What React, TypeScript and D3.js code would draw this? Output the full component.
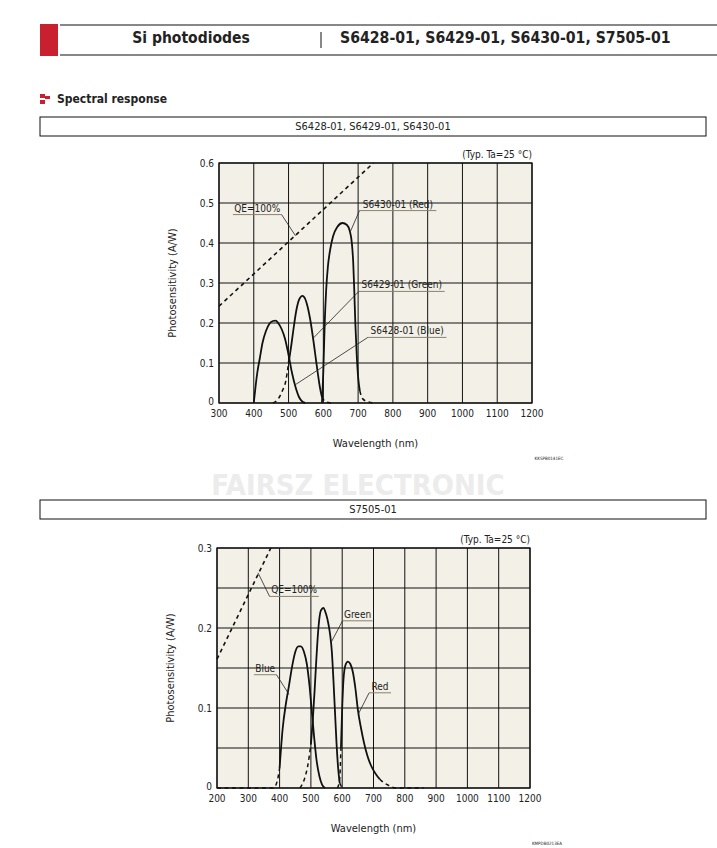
import * as d3 from 'd3';

const FONT = '"DejaVu Sans Condensed", "DejaVu Sans", Verdana, sans-serif';
const RED = '#c8202f';
const PLOT_BG = '#f3f1e7';

type Pt = [number, number];

// ---- S6428-01 / S6429-01 / S6430-01 ----
const topXTicks = [300, 400, 500, 600, 700, 800, 900, 1000, 1100, 1200];
const topYGrid = [0, 0.1, 0.2, 0.3, 0.4, 0.5, 0.6];
const topYLabels = ['0', '0.1', '0.2', '0.3', '0.4', '0.5', '0.6'];
const topQE: Pt[] = [[300, 0.242], [744, 0.6]];
const s6428Blue: Pt[] = [
  [400, 0], [405, 0.04], [410, 0.075], [418, 0.115], [425, 0.15], [435, 0.18], [445, 0.198],
  [455, 0.205], [463, 0.206], [470, 0.2], [480, 0.185], [490, 0.16], [500, 0.12], [510, 0.075],
  [520, 0.04], [530, 0.015], [540, 0.003], [548, 0],
];
const s6429Green: Pt[] = [
  [455, 0], [470, 0.01], [482, 0.03], [492, 0.055], [500, 0.1], [508, 0.145], [515, 0.19],
  [522, 0.23], [530, 0.258], [540, 0.268], [548, 0.26], [555, 0.24], [562, 0.21], [570, 0.165],
  [577, 0.12], [584, 0.075], [590, 0.04], [596, 0.015], [605, 0.004], [615, 0.001], [625, 0],
];
const s6430Red: Pt[] = [
  [596, 0], [600, 0.08], [604, 0.2], [608, 0.28], [613, 0.34], [620, 0.385], [628, 0.417],
  [640, 0.44], [655, 0.45], [668, 0.445], [676, 0.43], [682, 0.4], [686, 0.35], [689, 0.28],
  [692, 0.2], [696, 0.12], [700, 0.065], [705, 0.03], [712, 0.012], [725, 0.004], [750, 0],
];

// ---- S7505-01 ----
const botXTicks = [200, 300, 400, 500, 600, 700, 800, 900, 1000, 1100, 1200];
const botYGrid = [0, 0.05, 0.1, 0.15, 0.2, 0.25, 0.3];
const botYTicks = [0, 0.1, 0.2, 0.3];
const botYLabels = ['0', '0.1', '0.2', '0.3'];
const botQE: Pt[] = [[200, 0.161], [372, 0.3]];
const s7505Blue: Pt[] = [
  [200, 0], [380, 0], [392, 0.008], [400, 0.025], [410, 0.075], [420, 0.105], [430, 0.128],
  [440, 0.152], [450, 0.17], [460, 0.177], [468, 0.177], [478, 0.17], [487, 0.155], [495, 0.13],
  [502, 0.1], [510, 0.065], [518, 0.035], [527, 0.015], [536, 0.004], [545, 0],
];
const s7505Green: Pt[] = [
  [465, 0], [480, 0.012], [490, 0.028], [500, 0.055], [506, 0.085], [512, 0.123], [518, 0.165],
  [524, 0.2], [532, 0.222], [540, 0.225], [548, 0.218], [556, 0.205], [562, 0.19], [567, 0.17],
  [572, 0.135], [577, 0.095], [582, 0.055], [587, 0.025], [592, 0.006], [600, 0],
];
const s7505Red: Pt[] = [
  [585, 0], [592, 0.012], [596, 0.05], [600, 0.1], [604, 0.135], [610, 0.153], [618, 0.158],
  [626, 0.155], [634, 0.145], [642, 0.125], [650, 0.098], [660, 0.075], [670, 0.056], [680, 0.041],
  [690, 0.03], [700, 0.022], [710, 0.016], [720, 0.011], [735, 0.006], [750, 0.003], [770, 0], [860, 0],
];

interface Curve { data: Pt[]; solid: [number, number]; }
interface Note { text: string; from: number; to: number; y: number; side: 'left' | 'right'; tip: Pt; }
interface ChartProps {
  frame: { x0: number; x1: number; y0: number; y1: number };
  xDomain: [number, number];
  yDomain: [number, number];
  xTicks: number[];
  yGrid: number[];
  yTicks: number[];
  yLabels: string[];
  qe: Pt[];
  curves: Curve[];
  notes: Note[];
  code: string;
}

function Chart({ frame, xDomain, yDomain, xTicks, yGrid, yTicks, yLabels, qe, curves, notes, code }: ChartProps) {
  const x = d3.scaleLinear().domain(xDomain).range([frame.x0, frame.x1]);
  const y = d3.scaleLinear().domain(yDomain).range([frame.y1, frame.y0]);
  const line = d3.line<Pt>().x((d) => x(d[0])).y((d) => y(d[1])).curve(d3.curveMonotoneX);
  const straight = d3.line<Pt>().x((d) => x(d[0])).y((d) => y(d[1]));

  return (
    <g fontFamily={FONT}>
      <rect x={frame.x0} y={frame.y0} width={frame.x1 - frame.x0} height={frame.y1 - frame.y0} fill={PLOT_BG} />
      {xTicks.map((t) => (
        <line key={'gx' + t} x1={x(t)} x2={x(t)} y1={frame.y0} y2={frame.y1} stroke='#111' strokeWidth={1} />
      ))}
      {yGrid.map((t) => (
        <line key={'gy' + t} x1={frame.x0} x2={frame.x1} y1={y(t)} y2={y(t)} stroke='#111' strokeWidth={1} />
      ))}
      <rect x={frame.x0} y={frame.y0} width={frame.x1 - frame.x0} height={frame.y1 - frame.y0} fill='none' stroke='#111' strokeWidth={1.3} />

      {/* QE = 100 % */}
      <path d={straight(qe) as string} fill='none' stroke='#111' strokeWidth={1.6} strokeDasharray='4,3.5' />

      {curves.map((c, i) => {
        // solid inside the measured range, dashed tails outside; segments share their end points
        const i0 = c.data.findIndex((d) => d[0] >= c.solid[0]);
        let i1 = c.data.length - 1;
        while (i1 > 0 && c.data[i1][0] > c.solid[1]) i1--;
        const pre = c.data.slice(0, i0 + 1);
        const mid = c.data.slice(i0, i1 + 1);
        const post = c.data.slice(i1);
        return (
          <g key={'c' + i} fill='none' stroke='#111' strokeWidth={1.8}>
            {pre.length > 1 && <path d={line(pre) as string} strokeDasharray='4,3.5' strokeWidth={1.5} />}
            <path d={line(mid) as string} />
            {post.length > 1 && <path d={line(post) as string} strokeDasharray='4,3.5' strokeWidth={1.5} />}
          </g>
        );
      })}

      {notes.map((n) => {
        const ex = n.side === 'left' ? n.from : n.to;
        return (
          <g key={n.text}>
            <line x1={x(n.from)} x2={x(n.to)} y1={y(n.y)} y2={y(n.y)} stroke='#8a8070' strokeWidth={1} />
            <line x1={x(ex)} y1={y(n.y)} x2={x(n.tip[0])} y2={y(n.tip[1])} stroke='#222' strokeWidth={0.8} />
            <text x={(x(n.from) + x(n.to)) / 2} y={y(n.y) - 3} textAnchor='middle' fontSize={10} fill='#222'>
              {n.text}
            </text>
          </g>
        );
      })}

      <text x={frame.x1} y={frame.y0 - 5} textAnchor='end' fontSize={10} fill='#222'>
        (Typ. Ta=25 °C)
      </text>

      {xTicks.map((t) => (
        <text key={'tx' + t} x={x(t)} y={frame.y1 + 14} textAnchor='middle' fontSize={10} fill='#222'>
          {t}
        </text>
      ))}
      {yTicks.map((t, i) => (
        <text key={'ty' + t} x={frame.x0 - 5} y={y(t) - (t === 0 ? 2 : 0)} dy='0.35em' textAnchor='end' fontSize={10} fill='#222'>
          {yLabels[i]}
        </text>
      ))}
      <text x={(frame.x0 + frame.x1) / 2} y={frame.y1 + 44} textAnchor='middle' fontSize={11} fill='#222'>
        Wavelength (nm)
      </text>
      <text
        transform={`translate(${frame.x0 - 43}, ${(frame.y0 + frame.y1) / 2}) rotate(-90)`}
        textAnchor='middle'
        fontSize={11}
        fill='#222'
      >
        Photosensitivity (A/W)
      </text>
      <text x={frame.x1 + 17} y={frame.y1 + 57} textAnchor='middle' fontSize={4.5} fill='#222'>
        {code}
      </text>
    </g>
  );
}

export default function App() {
  const topNotes: Note[] = [
    { text: 'QE=100%', from: 340, to: 480, y: 0.471, side: 'right', tip: [520, 0.418] },
    { text: 'S6430-01 (Red)', from: 704, to: 925, y: 0.481, side: 'left', tip: [678, 0.429] },
    { text: 'S6429-01 (Green)', from: 702, to: 949, y: 0.279, side: 'left', tip: [572, 0.163] },
    { text: 'S6428-01 (Blue)', from: 728, to: 954, y: 0.164, side: 'left', tip: [520, 0.046] },
  ];
  const botNotes: Note[] = [
    { text: 'QE=100%', from: 368, to: 525, y: 0.2395, side: 'left', tip: [331, 0.269] },
    { text: 'Green', from: 601, to: 697, y: 0.209, side: 'left', tip: [566, 0.183] },
    { text: 'Blue', from: 318, to: 390, y: 0.1416, side: 'right', tip: [430, 0.117] },
    { text: 'Red', from: 686, to: 756, y: 0.119, side: 'left', tip: [651, 0.092] },
  ];

  return (
    <svg width={717} height={848} style={{ position: 'absolute', left: 0, top: 0, background: '#fff' }}>
      {/* page header */}
      <rect x={40} y={24} width={18} height={32} fill={RED} />
      <line x1={60} x2={717} y1={25} y2={25} stroke='#111' strokeWidth={1.2} />
      <line x1={60} x2={717} y1={55} y2={55} stroke='#111' strokeWidth={1.2} />
      <line x1={321} x2={321} y1={32} y2={48} stroke='#111' strokeWidth={1} />
      <text x={191} y={43} textAnchor='middle' fontFamily={FONT} fontWeight='bold' fontSize={15.5} fill='#222'>
        Si photodiodes
      </text>
      <text x={340} y={43} fontFamily={FONT} fontWeight='bold' fontSize={15.7} fill='#222'>
        S6428-01, S6429-01, S6430-01, S7505-01
      </text>

      {/* section title */}
      <rect x={40} y={94} width={5} height={4} fill={RED} />
      <rect x={45} y={96} width={5} height={3} fill={RED} />
      <rect x={40} y={100} width={5} height={4} fill={RED} />
      <text x={57} y={103} fontFamily={FONT} fontWeight='bold' fontSize={12} fill='#222'>
        Spectral response
      </text>

      <rect x={40} y={117} width={666} height={19} fill='none' stroke='#111' strokeWidth={1} />
      <text x={373} y={130} textAnchor='middle' fontFamily={FONT} fontSize={11} fill='#222'>
        S6428-01, S6429-01, S6430-01
      </text>

      <Chart
        frame={{ x0: 219, x1: 532, y0: 163, y1: 403 }}
        xDomain={[300, 1200]}
        yDomain={[0, 0.6]}
        xTicks={topXTicks}
        yGrid={topYGrid}
        yTicks={topYGrid}
        yLabels={topYLabels}
        qe={topQE}
        curves={[
          { data: s6428Blue, solid: [400, 548] },
          { data: s6429Green, solid: [495, 596] },
          { data: s6430Red, solid: [596, 710] },
        ]}
        notes={topNotes}
        code='KKSPB0141EC'
      />

      <text x={358} y={495} textAnchor='middle' fontFamily={FONT} fontWeight='bold' fontSize={29} fill='#ececec'>
        FAIRSZ ELECTRONIC
      </text>

      <rect x={40} y={500} width={666} height={19} fill='none' stroke='#111' strokeWidth={1} />
      <text x={373} y={513} textAnchor='middle' fontFamily={FONT} fontSize={11} fill='#222'>
        S7505-01
      </text>

      <Chart
        frame={{ x0: 217, x1: 530, y0: 548, y1: 788 }}
        xDomain={[200, 1200]}
        yDomain={[0, 0.3]}
        xTicks={botXTicks}
        yGrid={botYGrid}
        yTicks={botYTicks}
        yLabels={botYLabels}
        qe={botQE}
        curves={[
          { data: s7505Blue, solid: [400, 545] },
          { data: s7505Green, solid: [497, 592] },
          { data: s7505Red, solid: [595, 720] },
        ]}
        notes={botNotes}
        code='KMPDB0213EA'
      />
    </svg>
  );
}
